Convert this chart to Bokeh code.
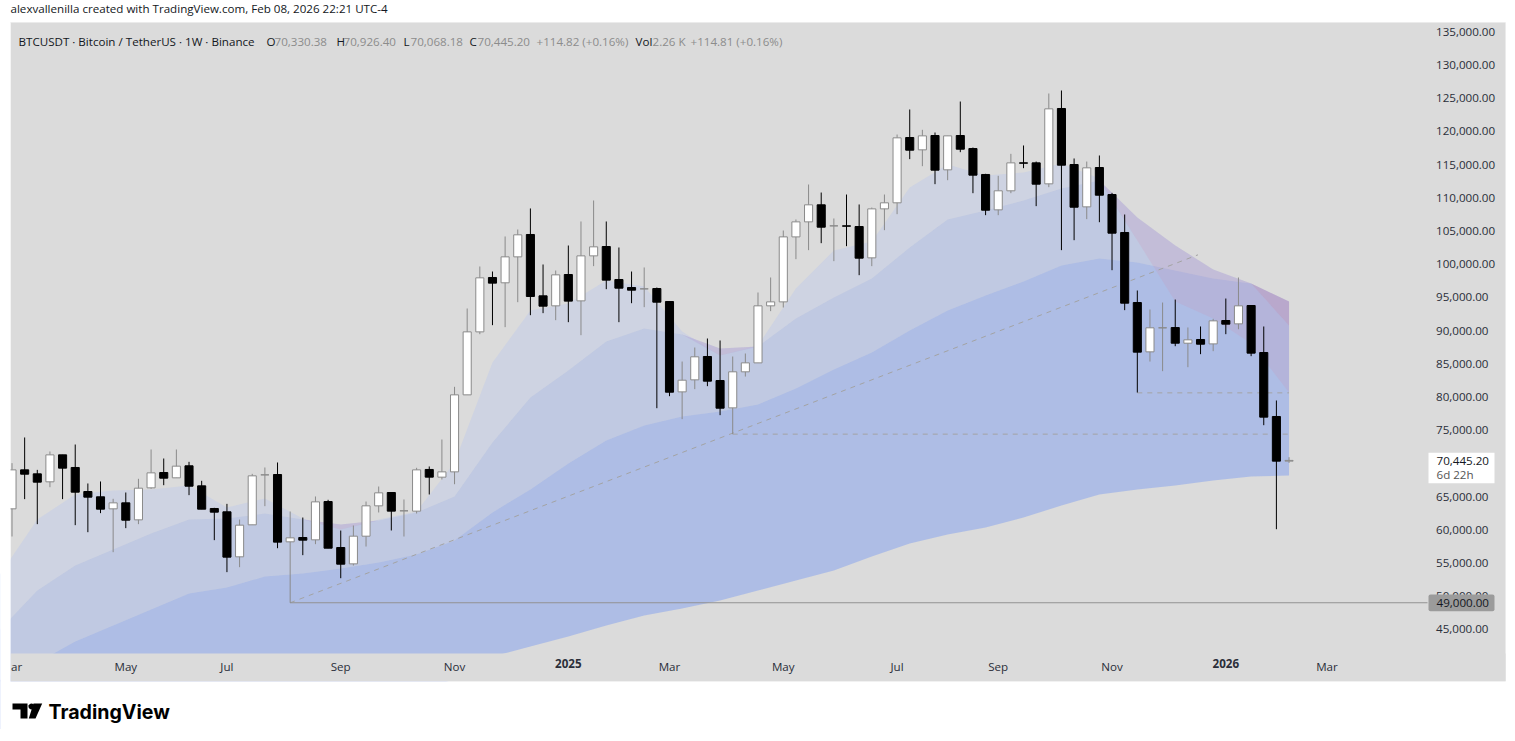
from bokeh.embed import file_html
from bokeh.models import BoxAnnotation, FixedTicker, Label, LinearAxis, NumeralTickFormatter, PolyAnnotation, Range1d
from bokeh.plotting import figure
from bokeh.resources import INLINE

import numpy as np

PANE = "#dbdbdb"
GREY_CANDLE = "#8a8a8a"
TEXT = "#131722"
VALUE = "#8c8c8c"
FONT = "Open Sans"
FONT_SIZE = "11.6px"

# weekly candles
opens = [63150, 69020, 68420, 67220, 71280, 69380, 65760, 64960, 63150, 64050,
         61490, 66310, 68620, 67820, 69630, 66610, 63200, 62700, 55920, 60740,
         68270, 68320, 58180, 58830, 58480, 64250, 57320, 54860, 59030, 63600,
         65610, 62850, 62800, 69080, 67920, 68720, 80320, 89810, 98000, 97200,
         101110, 104480, 95240, 93730, 98450, 94480, 101260, 102670, 97700, 96490,
         96290, 96340, 94380, 80770, 82580, 86100, 82480, 78360, 83790, 85140,
         93730, 94330, 104120, 106380, 108950, 105780, 105780, 105680, 100960, 108340,
         109250, 119090, 117230, 119390, 114220, 119390, 117430, 113520, 108190, 111060,
         115270, 115270, 112110, 123460, 115020, 108640, 114570, 110500, 104780, 94230,
         86800, 90420, 90460, 88100, 88660, 88000, 91520, 91020, 93780, 86700,
         77060, 70330]
highs = [70030, 73900, 69020, 71790, 71280, 72840, 66970, 67270, 64660, 65610,
         67670, 72090, 70730, 72090, 70230, 67370, 63300, 63900, 61540, 68420,
         69380, 70130, 62750, 61840, 65010, 64510, 59880, 60640, 64250, 66510,
         65610, 64560, 69330, 69530, 73590, 81530, 93330, 99660, 98900, 104180,
         105230, 108400, 99960, 99050, 102820, 106440, 109600, 106440, 102520, 98900,
         99510, 96490, 94380, 85340, 87450, 88810, 88510, 86100, 86550, 95740,
         98000, 105080, 106740, 112010, 110800, 106890, 110500, 109000, 108540, 110500,
         119540, 123310, 120250, 119840, 119340, 124510, 117580, 113620, 113320, 116630,
         117890, 115470, 125720, 126170, 115930, 115470, 116380, 110750, 107490, 96040,
         93180, 94230, 94680, 90470, 90620, 91770, 94830, 98000, 93780, 90620,
         79470, 70926]
lows = [58980, 64610, 60840, 66410, 64610, 60690, 59630, 62500, 56620, 60240,
        60840, 66160, 66710, 67820, 65210, 63100, 58430, 53610, 54360, 60740,
        63550, 57220, 49000, 56170, 57830, 57220, 52700, 54610, 57470, 62600,
        59890, 58980, 62450, 65310, 67570, 66860, 80320, 89460, 90820, 90520,
        94280, 92320, 92630, 91570, 91270, 89310, 99710, 96240, 91270, 94130,
        93530, 78310, 80120, 76660, 81180, 81630, 77260, 74400, 83080, 85140,
        92930, 93480, 100760, 102120, 103170, 100460, 102720, 98350, 99710, 105130,
        107540, 115830, 114770, 112060, 112660, 116880, 110700, 107390, 107390, 110700,
        114470, 108750, 111610, 102120, 103620, 106790, 106330, 99100, 93080, 80670,
        85340, 83890, 87650, 84490, 86450, 86900, 89460, 90210, 86150, 75750,
        60080, 70068]
closes = [69020, 68370, 67170, 71280, 69280, 65660, 64910, 63100, 64050, 61440,
          66260, 68570, 67770, 69580, 66560, 63100, 62650, 55870, 60690, 68120,
          68270, 58130, 58780, 58430, 64200, 57220, 54810, 59030, 63600, 65560,
          62800, 62850, 69020, 67920, 68720, 80320, 89810, 97950, 97150, 101110,
          104430, 95140, 93680, 98400, 94440, 101260, 102620, 97600, 96390, 96090,
          96290, 94280, 80720, 82530, 86050, 82380, 78310, 83790, 85140, 93730,
          94330, 104120, 106380, 108950, 105580, 105780, 105730, 100910, 108340, 109250,
          119040, 117180, 119340, 114170, 119340, 117330, 113420, 108140, 111060, 115270,
          115220, 112060, 123410, 114920, 108590, 114520, 110400, 104680, 94130, 86750,
          90420, 90420, 88100, 88610, 87950, 91470, 90970, 93730, 86600, 76960,
          70330, 70445]

# moving average ribbon, one reading every third week
band_weeks = [-1, 2, 5, 8, 11, 14, 17, 20, 23, 26, 29, 32, 35, 38, 41, 44, 47, 50,
              53, 56, 59, 62, 65, 68, 71, 74, 77, 80, 83, 86, 89, 92, 95, 98, 101]
ma_fast = [53110, 61540, 65310, 65910, 66060, 66670, 63350, 64710, 61690, 60040, 61540, 62750,
           70130, 85200, 93030, 94080, 97550, 96640, 89870, 86250, 87760, 96340, 102070, 103420,
           111560, 115020, 113370, 113820, 115170, 112910, 103570, 94380, 91820, 88060, 80680]
ma_mid = [44820, 50850, 54610, 57020, 59430, 61540, 61690, 62450, 61540, 60790, 61390, 62600,
          65010, 73140, 79920, 83990, 88360, 90320, 89410, 87300, 87600, 91820, 94990, 97850,
          102520, 106740, 108090, 109600, 111410, 112610, 107040, 102820, 99210, 97100, 90770]
ma_slow = [37290, 40000, 43160, 45570, 47980, 50400, 51300, 52960, 53410, 54160, 55070, 56270,
           58380, 62600, 66060, 69980, 73440, 75700, 77060, 77810, 78870, 81280, 84140, 86700,
           90020, 93030, 95290, 97400, 99810, 100860, 100260, 99050, 97850, 97100, 94380]
ma_long = [24000, 25000, 26000, 27000, 28000, 29000, 30000, 31000, 32000, 33000, 34000, 35500,
           37500, 40900, 42410, 43920, 45570, 47080, 48140, 49340, 50850, 52350, 53860, 55970,
           57930, 59280, 60340, 61840, 63650, 65310, 66060, 66670, 67420, 68020, 68170]

# drawings
support_level = 49000
trend_weeks = [22, 93.8]
trend_prices = [49000, 101420]
april_low = 74400
november_low = 80620

price_ticks = list(range(45000, 135001, 5000))
month_ticks = {0.36: "ar", 9: "May", 17: "Jul", 26: "Sep", 35: "Nov", 52: "Mar",
               61: "May", 70: "Jul", 78: "Sep", 87: "Nov", 104: "Mar"}
year_ticks = {44: "2025", 96: "2026"}

legend_parts = [("BTCUSDT \u00b7 Bitcoin / TetherUS \u00b7 1W \u00b7 Binance", 18, TEXT),
                ("O", 266, TEXT), ("70,330.38", 274, VALUE),
                ("H", 336, TEXT), ("70,926.40", 343, VALUE),
                ("L", 403, TEXT), ("70,068.18", 410, VALUE),
                ("C", 469, TEXT), ("70,445.20", 477, VALUE),
                ("+114.82 (+0.16%)", 536, VALUE),
                ("Vol", 635, TEXT), ("2.26 K", 652, VALUE),
                ("+114.81 (+0.16%)", 690, VALUE)]

WEEK_PX = 12.644
PAGE_W = 1507
PAGE_H = 729
PAGE_BOTTOM = 29906
pane_bottom = 37137
pane_floor = 41360


def week_at(px):
    """ Week index sitting at a page pixel column """
    return (px - 11.5) / WEEK_PX


def add_text(p, text, px, py, size=FONT_SIZE, color=TEXT, font=FONT, style="normal"):
    """ Put a text on the page, px/py being page pixels """
    p.add_layout(Label(x=px, y=PAGE_H - py, x_units="screen", y_units="screen",
                       text=text, text_font=font, text_font_size=size,
                       text_font_style=style, text_color=color,
                       text_baseline="middle", text_align="left"))


def add_logo_shape(p, xs, ys):
    """ Black polygon of the logo, in page pixels """
    p.add_layout(PolyAnnotation(xs=list(xs), ys=[PAGE_H - y for y in ys],
                                xs_units="screen", ys_units="screen",
                                fill_color="#000000", fill_alpha=1,
                                line_color=None))


def add_band(p, upper, lower, color, alpha):
    p.varea(band_weeks, upper, lower, fill_color=color, fill_alpha=alpha)


def add_ribbon(p, first, second, bull, bear):
    """ Fill between two averages, colour depending on which one is on top """
    first = np.array(first)
    second = np.array(second)
    is_bull = first >= second
    add_band(p, first, np.where(is_bull, second, first), *bull)
    add_band(p, second, np.where(is_bull, second, first), *bear)


# the frame is the whole page, annotations get clipped to it
p = figure(width=PAGE_W, height=PAGE_H, output_backend="svg", toolbar_location=None,
           x_range=Range1d(week_at(0), week_at(PAGE_W)),
           y_range=Range1d(PAGE_BOTTOM, 139730),
           y_axis_location="right",
           min_border_left=0, min_border_right=0, min_border_top=0, min_border_bottom=0,
           background_fill_color="#ffffff", border_fill_color="#ffffff",
           outline_line_color=None)
p.grid.visible = False

p.add_layout(BoxAnnotation(left=week_at(10), right=week_at(1505), top=136416, bottom=pane_bottom,
                           fill_color=PANE, fill_alpha=1, line_color="#e8e8e8",
                           level="underlay"))

add_band(p, ma_slow, ma_long, (107, 144, 244), 0.4)
add_ribbon(p, ma_mid, ma_slow, ((84, 129, 255), 0.2), ((211, 119, 146), 0.3))
add_ribbon(p, ma_fast, ma_mid, ((154, 179, 254), 0.2), ((210, 140, 170), 0.18))

# time scale strip and the page below it hide what the ribbon does under the price pane
p.quad(left=[week_at(10)], right=[week_at(1505)], top=[pane_floor], bottom=[pane_bottom],
       fill_color=PANE, line_color=None)
p.quad(left=[week_at(0)], right=[week_at(PAGE_W)], top=[pane_bottom], bottom=[PAGE_BOTTOM],
       fill_color="#ffffff", line_color=None)

p.line(trend_weeks, trend_prices, color="#a3a3a3", line_width=1, line_dash=[5, 5])
p.line([57, 101], [april_low, april_low], color="#a3a3a3", line_width=1, line_dash=[5, 5])
p.line([89, 101], [november_low, november_low], color="#a3a3a3", line_width=1, line_dash=[5, 5])
p.line([22, week_at(1427)], [support_level, support_level], color="#929292", line_width=1)

weeks = np.arange(len(opens))
o = np.array(opens)
c = np.array(closes)
up = c >= o
colors = np.where(up, GREY_CANDLE, "#000000")
p.segment(weeks, lows, weeks, highs, color=colors.tolist(), line_width=1)
p.vbar(weeks[up], 0.64, o[up], c[up], fill_color="#ffffff", line_color=GREY_CANDLE, line_width=1)
p.vbar(weeks[~up], 0.64, c[~up], o[~up], fill_color="#000000", line_color="#000000", line_width=1)

# first candle and ribbon start are cut by the left edge of the pane
p.add_layout(BoxAnnotation(left=week_at(0), right=week_at(10), top=136416, bottom=PAGE_BOTTOM,
                           fill_color="#ffffff", fill_alpha=1, line_color=None))

price_axis = p.yaxis[0]
price_axis.fixed_location = week_at(1427.5)
price_axis.ticker = FixedTicker(ticks=price_ticks)
price_axis.formatter = NumeralTickFormatter(format="0,0.00")
price_axis.axis_line_color = None
price_axis.major_tick_line_color = None
price_axis.minor_tick_line_color = None
price_axis.major_label_standoff = 2
price_axis.major_label_text_font = FONT
price_axis.major_label_text_font_size = FONT_SIZE
price_axis.major_label_text_color = "#2a2e39"

time_axis = p.xaxis[0]
time_axis.fixed_location = pane_floor
time_axis.ticker = FixedTicker(ticks=list(month_ticks))
time_axis.major_label_overrides = month_ticks
time_axis.axis_line_color = None
time_axis.major_tick_line_color = None
time_axis.minor_tick_line_color = None
time_axis.major_label_standoff = 0
time_axis.major_label_text_font = FONT
time_axis.major_label_text_font_size = FONT_SIZE
time_axis.major_label_text_color = "#2a2e39"

year_axis = LinearAxis(fixed_location=pane_floor, ticker=FixedTicker(ticks=list(year_ticks)),
                       major_label_overrides=year_ticks, axis_line_color=None,
                       major_tick_line_color=None, minor_tick_line_color=None,
                       major_label_standoff=0, major_label_text_font=FONT,
                       major_label_text_font_size=FONT_SIZE,
                       major_label_text_font_style="bold",
                       major_label_text_color="#2a2e39")
p.add_layout(year_axis, "below")

# price tags sit over the axis labels
p.add_layout(BoxAnnotation(left=week_at(1428), right=week_at(1494), top=71590, bottom=67010,
                           fill_color="#ffffff", fill_alpha=1, line_color=None))
p.add_layout(BoxAnnotation(left=week_at(1428), right=week_at(1494), top=50250, bottom=47730,
                           fill_color="#9b9b9b", fill_alpha=1, line_color=None, border_radius=2))
add_text(p, "70,445.20", 1436, 460)
add_text(p, "6d 22h", 1436, 474, color="#555555")
add_text(p, "49,000.00", 1436, 602)

add_text(p, "alexvallenilla created with TradingView.com, Feb 08, 2026 22:21 UTC-4", 10, 8)
for text, px, color in legend_parts:
    add_text(p, text, px, 41, color=color)

add_logo_shape(p, [12, 27, 27, 20, 20, 12], [703, 703, 718, 718, 709, 709])
add_logo_shape(p, [33, 41.7, 35, 28.3], [703, 703, 718, 718])
angles = np.linspace(0, 2 * np.pi, 16, endpoint=False)
add_logo_shape(p, 31 + 3 * np.cos(angles), 706 + 3 * np.sin(angles))
add_text(p, "TradingView", 48, 711, size="19.6px", color="#000000", font="Inter", style="bold")

open("out.html", "w").write(file_html(p, INLINE))
